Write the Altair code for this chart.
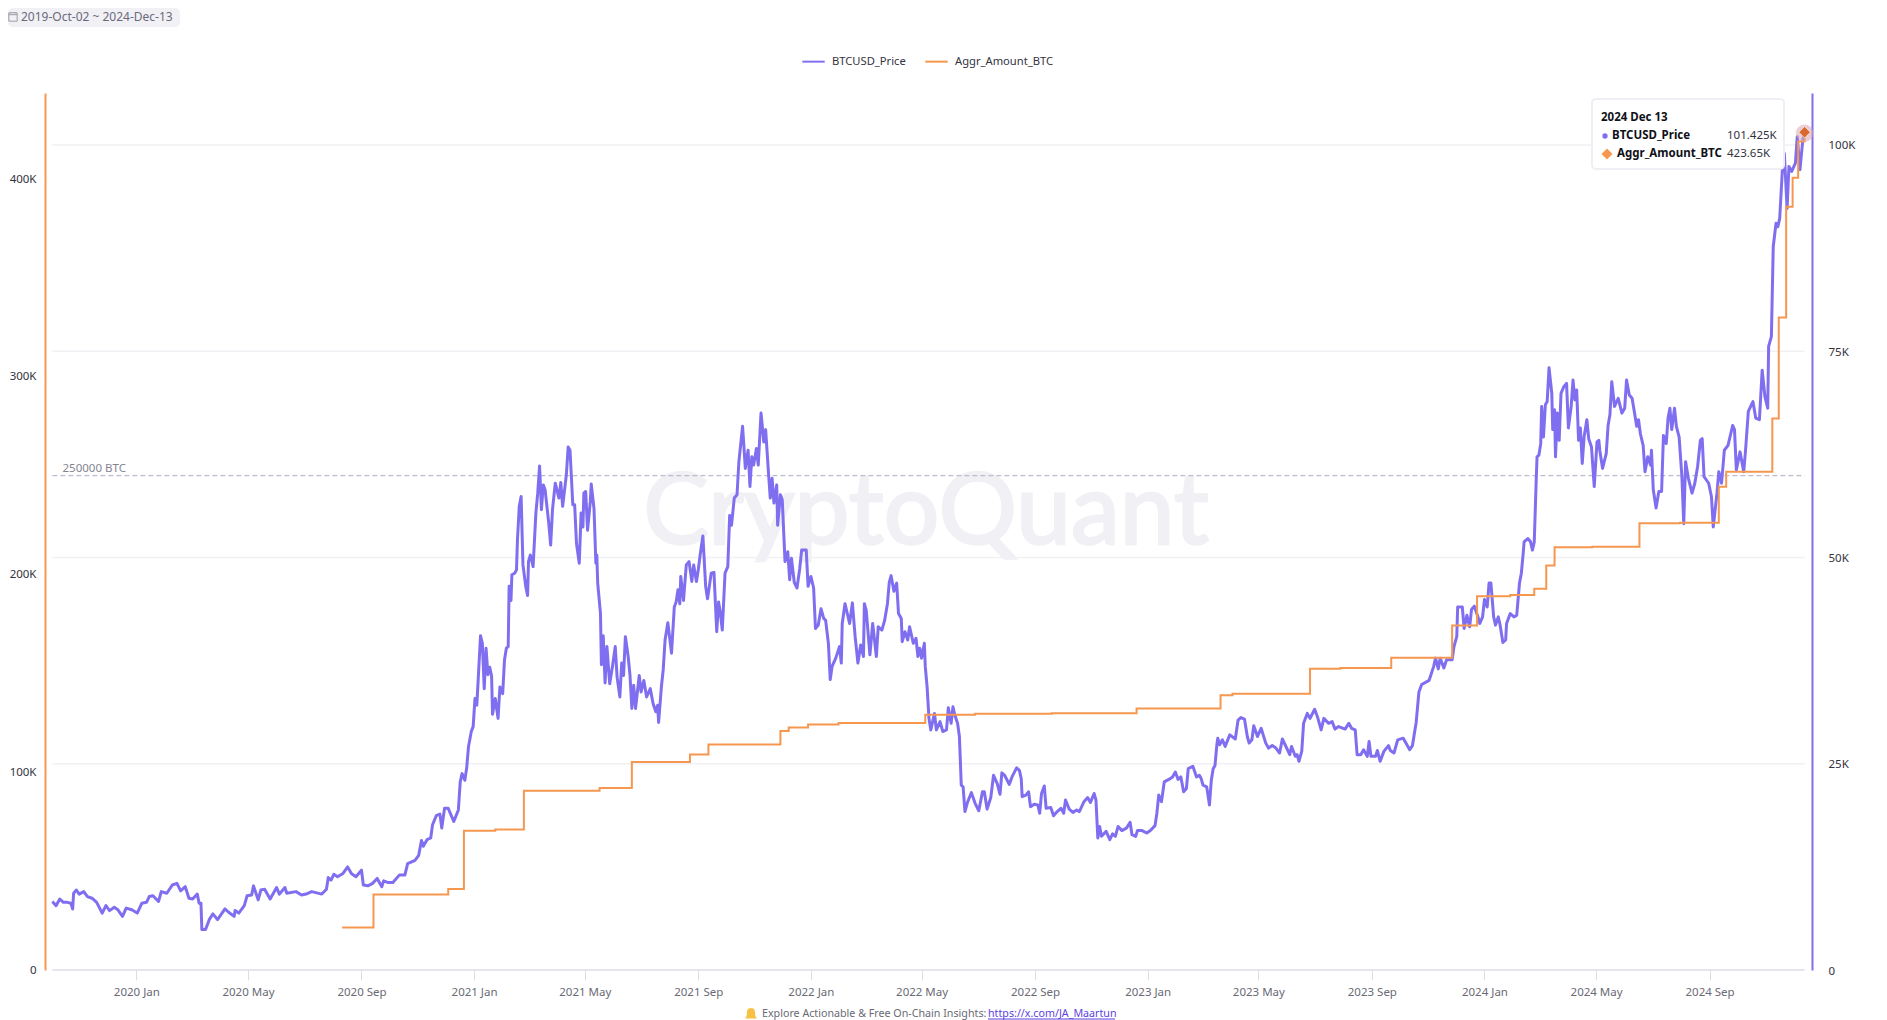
import datetime as dt
import altair as alt
import pandas as pd

START = dt.datetime(2019, 10, 2, tzinfo=dt.timezone.utc)

# (days since 2019-10-02, BTC price in thousand USD)
price_a = [(0,8.3),(4,7.8),(8,8.6),(12,8.2),(16,8.2),(20,8.1),(22,7.4),(23,9.3),(26,9.7),(29,9.2),(34,9.5),(38,8.9),(43,8.7),(48,8.2),(54,6.9),(58,7.8),(62,7.2),(67,7.6),(71,7.3),(76,6.5),(80,7.5),(86,7.3),(92,6.9),(97,8.1),(102,8.2),(105,8.9),(109,9.0),(115,8.3),(118,9.5),(124,9.3),(130,10.3),(135,10.5),(139,9.6),(144,10.1),(148,8.7),(152,8.6),(157,9.2),(159,8.1),(161,8.1),(162,4.9),(166,4.9),(170,6.1),(174,6.8),(179,6.1),(187,7.4),(191,7.0),(197,6.5),(198,7.2),(202,6.9),(208,7.8),(211,9.0),(216,9.1),(218,10.2),(223,8.5),(226,9.7),(230,9.8),(236,8.6),(243,10.0),(246,9.2),(252,10.0),(254,9.3),(264,9.5),(270,9.1),(275,9.2),(281,9.5),(292,9.2),(297,9.8),(299,11.2),(302,10.9),(305,11.6),(309,11.3),(315,11.7),(320,12.5),(324,11.7),(329,11.3),(335,12.1),(337,10.3),(342,10.2),(347,10.5),(352,11.1),(357,10.1),(359,10.8),(364,10.6),(369,10.6),(376,11.5),(382,11.5),(385,12.9),(393,13.3),(397,13.9),(400,15.7),(402,15.0),(406,15.8),(410,16.0),(412,17.6),(416,18.7),(420,18.9),(422,17.2),(425,19.6),(429,19.6),(435,18.0),(440,19.4),(442,22.8),(444,23.8),(447,23.0),(449,24.5)]
price_b = [(451,27.1),(454,28.9),(456,29.5),(458,32.9),(460,32.1),(464,40.5),(466,39.6),(468,34.1),(470,39.0),(472,35.8),(474,36.7),(476,35.6),(477,31.0),(480,32.9),(483,30.5),(485,34.3),(488,33.5),(490,37.6),(492,39.0),(494,39.2),(495,46.5),(497,44.8),(498,47.9),(501,48.1),(503,48.5),(504,52.1),(506,56.2),(508,57.4),(510,49.1),(513,46.5),(515,45.4),(516,49.5),(518,50.3),(521,48.9),(524,55.4),(526,57.8),(528,61.1),(530,55.8),(532,58.8),(534,58.2),(538,54.1),(540,51.5),(542,55.8),(545,59.0),(549,57.2),(551,59.1),(553,56.2),(557,60.0),(559,63.4),(561,63.0),(564,56.4),(566,56.4),(568,51.7),(571,49.3),(573,55.4),(575,53.7),(576,57.8),(578,58.0),(580,53.3),(583,56.8),(584,58.9),(587,55.9),(589,49.3),(590,50.3),(591,46.9),(594,43.2),(595,37.0),(597,40.5),(599,34.8),(601,39.2),(604,34.7),(607,36.8),(610,39.2),(612,35.5),(615,33.1),(617,37.2),(619,35.7),(621,40.4),(624,38.0),(626,35.7),(628,31.7),(630,34.5),(632,31.7),(636,35.7),(638,33.7),(641,35.1),(644,33.1),(648,34.1),(651,32.3),(654,31.3),(656,32.1),(657,30.0),(660,34.3),(662,36.4),(664,40.0),(667,42.1),(671,38.4),(674,44.0),(676,44.6),(678,46.1),(680,44.4),(681,47.7),(684,44.8),(687,49.1),(690,49.5),(693,47.1),(695,49.1),(698,47.1),(700,48.5),(702,50.3),(705,52.6),(708,46.5),(710,45.0),(712,46.5),(714,48.1),(717,48.2),(720,41.0),(722,44.6),(724,43.2),(726,41.2),(729,48.1),(732,48.9),(734,55.1),(736,53.9),(739,57.2),(742,57.6)]
price_c = [(744,61.6),(748,65.9),(751,60.8),(754,63.0),(756,58.6),(758,62.2),(760,61.2),(763,63.2),(765,61.2),(768,67.5),(771,64.0),(773,65.5),(776,60.4),(778,57.2),(780,59.6),(782,56.6),(785,58.8),(786,53.9),(789,57.6),(791,57.0),(794,49.5),(797,50.7),(799,47.3),(801,49.9),(804,47.0),(807,46.3),(810,48.7),(812,50.9),(817,50.9),(819,46.5),(822,47.7),(825,46.3),(827,41.4),(830,41.8),(833,43.8),(836,42.6),(838,42.4),(841,39.6),(843,35.2),(845,36.8),(849,37.8),(853,39.2),(855,37.2),(856,42.0),(859,44.4),(864,42.0),(867,44.5),(870,40.4),(873,37.2),(876,39.4),(879,38.0),(880,44.4),(882,43.6),(886,38.2),(889,42.0),(893,38.0),(895,41.6),(899,41.2),(902,42.4),(905,44.4),(907,47.0),(909,47.8),(912,45.9),(915,46.9),(917,43.2),(920,42.6),(921,39.8),(924,41.0),(927,40.0),(929,41.6),(933,39.6),(936,40.2),(938,38.0),(940,39.0),(942,37.8),(945,39.6),(946,36.8),(948,34.3)]
price_d = [(950,30.5),(952,29.1),(956,31.1),(958,29.1),(962,30.1),(965,28.9),(969,29.1),(971,31.8),(974,29.9),(976,31.9),(978,30.9),(981,29.9),(983,28.3),(984,25.4),(985,22.4),(987,22.2),(989,19.2),(992,20.4),(996,21.5),(1000,20.2),(1004,19.3),(1008,21.6),(1010,21.6),(1013,19.5),(1017,20.9),(1020,23.6),(1024,22.6),(1027,21.3),(1029,23.9),(1032,23.6),(1037,22.5),(1040,23.4),(1045,24.5),(1048,24.2),(1050,23.2),(1051,21.0),(1055,21.2),(1058,21.6),(1060,19.8),(1064,20.1),(1068,20.0),(1070,19.0),(1072,21.4),(1075,22.3),(1077,19.6),(1082,19.7),(1085,18.7),(1089,19.2),(1093,19.6),(1096,19.0),(1098,20.6),(1102,19.5),(1106,19.1),(1110,19.4),(1113,19.2),(1118,20.4),(1122,20.9),(1125,20.3),(1129,21.4),(1131,20.6),(1133,16.0),(1135,17.4),(1137,16.2),(1142,16.8),(1146,15.8),(1149,16.5),(1152,16.2),(1155,17.4),(1159,16.9),(1164,17.2),(1168,17.9),(1170,16.4),(1174,16.2),(1176,16.9),(1181,16.9),(1186,16.6),(1190,16.9),(1195,17.5),(1197,19.0),(1199,21.2),(1202,20.4),(1205,22.8),(1210,23.1),(1214,23.4),(1217,24.0),(1220,23.1),(1223,23.4),(1226,21.6),(1229,22.0),(1231,24.4),(1236,24.7),(1240,23.4),(1243,23.6),(1245,23.2),(1247,22.4),(1251,22.2),(1254,20.0),(1256,23.0),(1258,24.4),(1260,24.8),(1262,27.3),(1263,28.1),(1265,27.3),(1268,27.9),(1271,27.1),(1276,28.5),(1282,28.0),(1285,30.3),(1288,30.6),(1292,30.4),(1295,28.3),(1297,27.5),(1300,27.9),(1302,29.6),(1306,28.3),(1310,29.3),(1315,27.5),(1318,26.9),(1322,27.2),(1326,26.9),(1330,26.3),(1333,28.0),(1336,27.3),(1341,26.1),(1343,27.1),(1347,25.9),(1349,26.1),(1351,25.3),(1354,26.5),(1356,29.9),(1360,31.1),(1363,30.5),(1368,31.6),(1371,30.7),(1375,29.1),(1378,30.5),(1383,29.9),(1387,30.1),(1390,29.2),(1394,29.5),(1401,29.2),(1405,29.9),(1408,29.3),(1412,29.1),(1414,26.1),(1418,26.1),(1421,26.7),(1425,25.9),(1427,27.7),(1429,25.9),(1434,25.9),(1436,26.6),(1439,25.3),(1443,26.5),(1448,27.2),(1450,26.6),(1454,26.3),(1458,27.9)]
price_e = [(1464,28.1),(1471,26.7),(1474,27.2),(1478,30.0),(1481,33.7),(1484,34.6),(1492,35.1),(1497,36.8),(1499,37.8),(1502,36.5),(1504,37.8),(1508,36.6),(1511,37.6),(1517,37.6),(1519,39.2),(1522,40.4),(1523,44.0),(1528,44.0),(1530,41.4),(1533,43.0),(1536,41.6),(1538,43.7),(1541,44.1),(1545,42.8),(1547,42.0),(1550,42.8),(1552,44.9),(1555,44.0),(1557,46.9),(1559,46.9),(1562,42.8),(1564,41.8),(1567,42.8),(1569,41.8),(1572,39.7),(1575,40.0),(1576,42.0),(1580,43.2),(1584,42.8),(1587,43.0),(1590,46.9),(1592,48.1),(1594,50.5),(1595,51.9),(1599,52.3),(1602,51.9),(1604,50.9),(1606,51.9),(1608,59.0),(1609,62.2),(1611,62.4),(1613,63.8),(1614,68.3),(1616,64.6),(1618,68.5),(1620,68.9),(1622,73.0),(1625,69.9),(1626,65.5),(1628,67.9),(1629,62.2),(1631,67.5),(1633,64.2),(1635,69.9),(1638,70.7),(1641,71.1),(1643,65.7),(1646,68.3),(1648,71.5),(1650,69.1),(1652,70.3),(1654,64.2),(1656,65.7),(1658,61.4),(1660,64.6),(1663,66.7),(1665,64.4),(1668,63.4),(1671,58.6),(1674,64.0),(1676,64.2),(1677,63.0),(1680,60.8),(1684,62.6),(1686,66.0),(1688,67.3),(1690,71.3),(1693,68.3),(1697,69.3),(1701,67.5),(1704,68.1),(1706,71.5),(1709,69.7),(1712,69.3),(1715,67.3),(1717,65.9),(1719,66.7),(1721,65.0),(1724,63.6),(1726,60.4),(1729,62.2),(1732,61.2),(1733,63.0),(1735,58.2),(1738,56.0),(1741,58.0),(1744,58.0),(1746,64.8),(1749,63.8),(1751,66.9),(1753,68.1),(1755,65.5),(1758,68.1),(1760,65.9),(1763,64.6),(1766,59.8),(1768,54.1)]
price_f = [(1770,61.6),(1773,59.6),(1777,57.8),(1780,59.0),(1783,61.0),(1786,64.2),(1788,64.4),(1790,59.8),(1795,59.0),(1798,57.4),(1800,53.7),(1804,57.8),(1806,60.4),(1809,59.0),(1812,63.0),(1816,63.6),(1821,66.0),(1823,65.5),(1825,60.6),(1829,62.8),(1833,60.4),(1835,63.0),(1838,67.7),(1843,68.9),(1846,66.9),(1850,66.7),(1853,72.7),(1856,69.5),(1859,68.1),(1860,75.6),(1863,76.8),(1865,87.7),(1868,90.5),(1870,90.1),(1872,91.1),(1875,97.2),(1877,99.0),(1880,92.3),(1882,97.4),(1885,96.8),(1889,97.8),(1891,101.0),(1894,97.0),(1897,100.6),(1899,101.425)]

# (days since 2019-10-02, aggregated BTC in thousands): value from that day on
aggr_steps = [(314,21.5),(348,38.2),(429,40.9),(446,70.4),(480,71.0),(511,90.6),(593,92.0),(628,105.2),(691,109.0),(711,114.0),(789,120.8),(798,122.6),(819,124.1),(852,124.9),(946,129.1),(1000,129.6),(1083,129.8),(1175,132.2),(1266,138.9),(1279,139.7),(1363,152.3),(1396,152.7),(1451,157.9),(1517,174.2),(1544,189.0),(1580,189.7),(1606,192.8),(1619,204.5),(1628,213.8),(1669,214.1),(1720,225.9),(1764,226.2),(1806,244.4),(1814,252.0),(1864,278.9),(1871,330.0),(1879,386.0),(1886,400.7),(1892,419.0),(1899,423.65)]

left_ticks = [0, 100, 200, 300, 400]
right_ticks = [0, 25, 50, 75, 100]
grid_lines = [25, 50, 75, 100]
threshold = [250]
x_tick_months = [(2020,1),(2020,5),(2020,9),(2021,1),(2021,5),(2021,9),(2022,1),(2022,5),(2022,9),(2023,1),(2023,5),(2023,9),(2024,1),(2024,5),(2024,9)]
series_names = ["BTCUSD_Price", "Aggr_Amount_BTC"]
series_colors = ["#7f6ff0", "#f6974f"]

FONT = "Noto Sans"
LEFT_DOMAIN = [0, 443.5]
RIGHT_DOMAIN = [0, 106.3]


def iso(day):
    return (START + dt.timedelta(days=day)).strftime("%Y-%m-%dT00:00:00Z")


def ms(y, m, d=1):
    return dt.datetime(y, m, d, tzinfo=dt.timezone.utc).timestamp() * 1000


price_rows = price_a + price_b + price_c + price_d + price_e + price_f
price_df = pd.DataFrame({"date": [iso(d) for d, _ in price_rows],
                         "v": [v for _, v in price_rows], "series": series_names[0]})
aggr_df = pd.DataFrame({"date": [iso(d) for d, _ in aggr_steps],
                        "v": [v for _, v in aggr_steps], "series": series_names[1]})
first, last = iso(0), iso(1899)

x_scale = alt.Scale(type="utc", domain=[ms(2019, 9, 24), ms(2024, 12, 21)], nice=False)
left_scale = alt.Scale(domain=LEFT_DOMAIN, nice=False)
right_scale = alt.Scale(domain=RIGHT_DOMAIN, nice=False)
color = alt.Color("series:N",
                  scale=alt.Scale(domain=series_names, range=series_colors),
                  legend=alt.Legend(orient="none", legendX=756, legendY=-44, direction="horizontal",
                                    title=None, symbolType="stroke", symbolSize=500,
                                    symbolStrokeWidth=2, labelFont=FONT, labelFontSize=11.2,
                                    labelColor="#333340", columnPadding=15, labelOffset=6))

x_axis = alt.Axis(values=[ms(y, m) for y, m in x_tick_months],
                  labelExpr="utcFormat(datum.value, '%Y %b')", title=None, domain=False, grid=False,
                  tickSize=10, tickColor="#dcdce6", tickWidth=1, labelFont=FONT, labelFontSize=11.5,
                  labelColor="#6a6a75", labelPadding=6, labelOverlap=False, labelFlush=False)


def px(p):
    return alt.value(p - 45)


def py(p):
    return alt.value(p - 93)


blank = alt.Data(values=[{}])


def label(text, x, y, size=11.5, color="#333340", weight="normal", align="left", font=FONT):
    return alt.Chart(blank).mark_text(text=text, font=font, fontSize=size, color=color, fontWeight=weight,
                                      align=align, baseline="middle").encode(x=px(x), y=py(y))


# horizontal gridlines on the price scale
grid = alt.Chart(pd.DataFrame({"v": grid_lines, "a": first, "b": last})).mark_rule(
    color="#f1f1f5", strokeWidth=1.3).encode(
    x=alt.X("a:T", scale=x_scale, axis=None), x2="b:T",
    y=alt.Y("v:Q", scale=right_scale, axis=None))

baseline = alt.Chart(pd.DataFrame({"v": [0], "a": first, "b": last})).mark_rule(
    color="#dcdce6", strokeWidth=1.5).encode(
    x=alt.X("a:T", scale=x_scale, axis=x_axis), x2="b:T",
    y=alt.Y("v:Q", scale=right_scale, axis=None))

watermark = alt.Chart(blank).mark_text(text="CryptoQuant", font="Lato", fontSize=98, color="#f0f0f5",
                                       stroke="#f0f0f5", strokeWidth=2.5,
                                       align="center", baseline="alphabetic").encode(
    x=px(926), y=py(544))

ref_line = alt.Chart(pd.DataFrame({"v": threshold, "a": first, "b": last})).mark_rule(
    color="#bcbcca", strokeWidth=1.2, strokeDash=[5, 3]).encode(
    x=alt.X("a:T", scale=x_scale, axis=None), x2="b:T",
    y=alt.Y("v:Q", scale=left_scale, axis=None))
ref_text = alt.Chart(pd.DataFrame({"v": threshold, "a": [iso(11)]})).mark_text(
    text="250000 BTC", font=FONT, fontSize=11.5, color="#85858f", align="left", dy=-7, baseline="middle").encode(
    x=alt.X("a:T", scale=x_scale, axis=None),
    y=alt.Y("v:Q", scale=left_scale, axis=None))

price_line = alt.Chart(price_df).mark_line(strokeWidth=3, strokeJoin="round").encode(
    x=alt.X("date:T", scale=x_scale, axis=None),
    y=alt.Y("v:Q", scale=right_scale,
            axis=alt.Axis(orient="right", values=right_ticks, title=None, grid=False, ticks=False,
                          domainColor=series_colors[0], domainWidth=2,
                          labelExpr="datum.value == 0 ? '0' : datum.value + 'K'", labelOffset=1,
                          labelFont=FONT, labelFontSize=11.5, labelColor="#333340", labelPadding=16)),
    color=color)

aggr_line = alt.Chart(aggr_df).mark_line(strokeWidth=2.0, interpolate="step-after").encode(
    x=alt.X("date:T", scale=x_scale, axis=None),
    y=alt.Y("v:Q", scale=left_scale,
            axis=alt.Axis(orient="left", values=left_ticks, title=None, grid=False, ticks=False,
                          domainColor=series_colors[1], domainWidth=2,
                          labelExpr="datum.value == 0 ? '0' : datum.value + 'K'", labelOffset=0,
                          labelFont=FONT, labelFontSize=11.5, labelColor="#333340", labelPadding=9)),
    color=color)

# date-range pill
pill = alt.Chart(blank).mark_rect(fill="#f1f1f5", cornerRadius=5).encode(
    x=px(8), x2=px(180), y=py(8), y2=py(27))
calendar = alt.Chart(blank).mark_point(
    shape="M-1,-1H1V1H-1Z M-1,-0.55H1 M-0.5,-1.2V-0.9 M0.5,-1.2V-0.9", stroke="#77778a", strokeWidth=1,
    filled=False, size=70).encode(x=px(13), y=py(17))
pill_text = label("2019-Oct-02 ~ 2024-Dec-13", 21, 17, size=12, color="#6a6a7c")

# footer
bell = alt.Chart(blank).mark_point(
    shape="M0,-1C-0.6,-1 -0.7,-0.5 -0.7,0C-0.7,0.4 -0.9,0.6 -1,0.75H1C0.9,0.6 0.7,0.4 0.7,0C0.7,-0.5 0.6,-1 0,-1Z",
    fill="#f6c244", filled=True, size=140, opacity=1).encode(x=px(751), y=py(1014))
foot_text = label("Explore Actionable & Free On-Chain Insights:", 762, 1014, size=10.7, color="#6a6a75")
foot_link = label("https://x.com/JA_Maartun", 988, 1014, size=10.7, color="#5b3fe0")
foot_rule = alt.Chart(blank).mark_rule(color="#5b3fe0", strokeWidth=1).encode(
    x=px(988), x2=px(1115), y=py(1019))

# hover highlight at the last date
halo = alt.Chart(pd.DataFrame({"date": [last], "v": [price_rows[-1][1]]})).mark_point(
    filled=True, fill="#d9a5ae", opacity=0.55, size=300, shape="circle").encode(
    x=alt.X("date:T", scale=x_scale, axis=None),
    y=alt.Y("v:Q", scale=right_scale, axis=None))
dot = alt.Chart(pd.DataFrame({"date": [last], "v": [aggr_steps[-1][1]]})).mark_point(
    filled=True, fill="#d9682f", opacity=1, size=130, shape="diamond", stroke="#ffffff", strokeWidth=0.6).encode(
    x=alt.X("date:T", scale=x_scale, axis=None),
    y=alt.Y("v:Q", scale=left_scale, axis=None))

# tooltip box
tip_box = alt.Chart(blank).mark_rect(fill="#ffffff", stroke="#eeeef4", strokeWidth=2, cornerRadius=4).encode(
    x=px(1592), x2=px(1784), y=py(99), y2=py(169))
tip_title = label("2024 Dec 13", 1601, 118, size=11.5, color="#111118", weight="bold")
tip_n1 = label(series_names[0], 1612, 136, size=11.5, color="#111118", weight="bold")
tip_v1 = label("101.425K", 1727, 136, size=11.5, color="#333340")
tip_n2 = label(series_names[1], 1617, 154, size=11.5, color="#111118", weight="bold")
tip_v2 = label("423.65K", 1727, 154, size=11.5, color="#333340")
tip_d1 = alt.Chart(blank).mark_point(filled=True, fill=series_colors[0], opacity=1, size=28,
                                     shape="circle").encode(x=px(1605), y=py(136))
tip_d2 = alt.Chart(blank).mark_point(filled=True, fill=series_colors[1], opacity=1, size=120,
                                     shape="diamond").encode(x=px(1607), y=py(154))

chart = alt.layer(
    pill, calendar, pill_text, watermark, grid, baseline, ref_line, ref_text,
    price_line, aggr_line, halo, dot,
    tip_box, tip_title, tip_n1, tip_v1, tip_n2, tip_v2, tip_d1, tip_d2,
    bell, foot_text, foot_link, foot_rule,
).resolve_scale(y="independent", x="shared", color="shared").resolve_axis(
    y="independent", x="independent").properties(
    width=1767, height=877,
    background="#ffffff",
    autosize=alt.AutoSizeParams(type="none"),
    padding={"left": 37, "top": 85, "right": 67, "bottom": 50},
).configure_view(stroke=None)

chart.save("out.html", embed_options={"renderer": "svg", "actions": False})
